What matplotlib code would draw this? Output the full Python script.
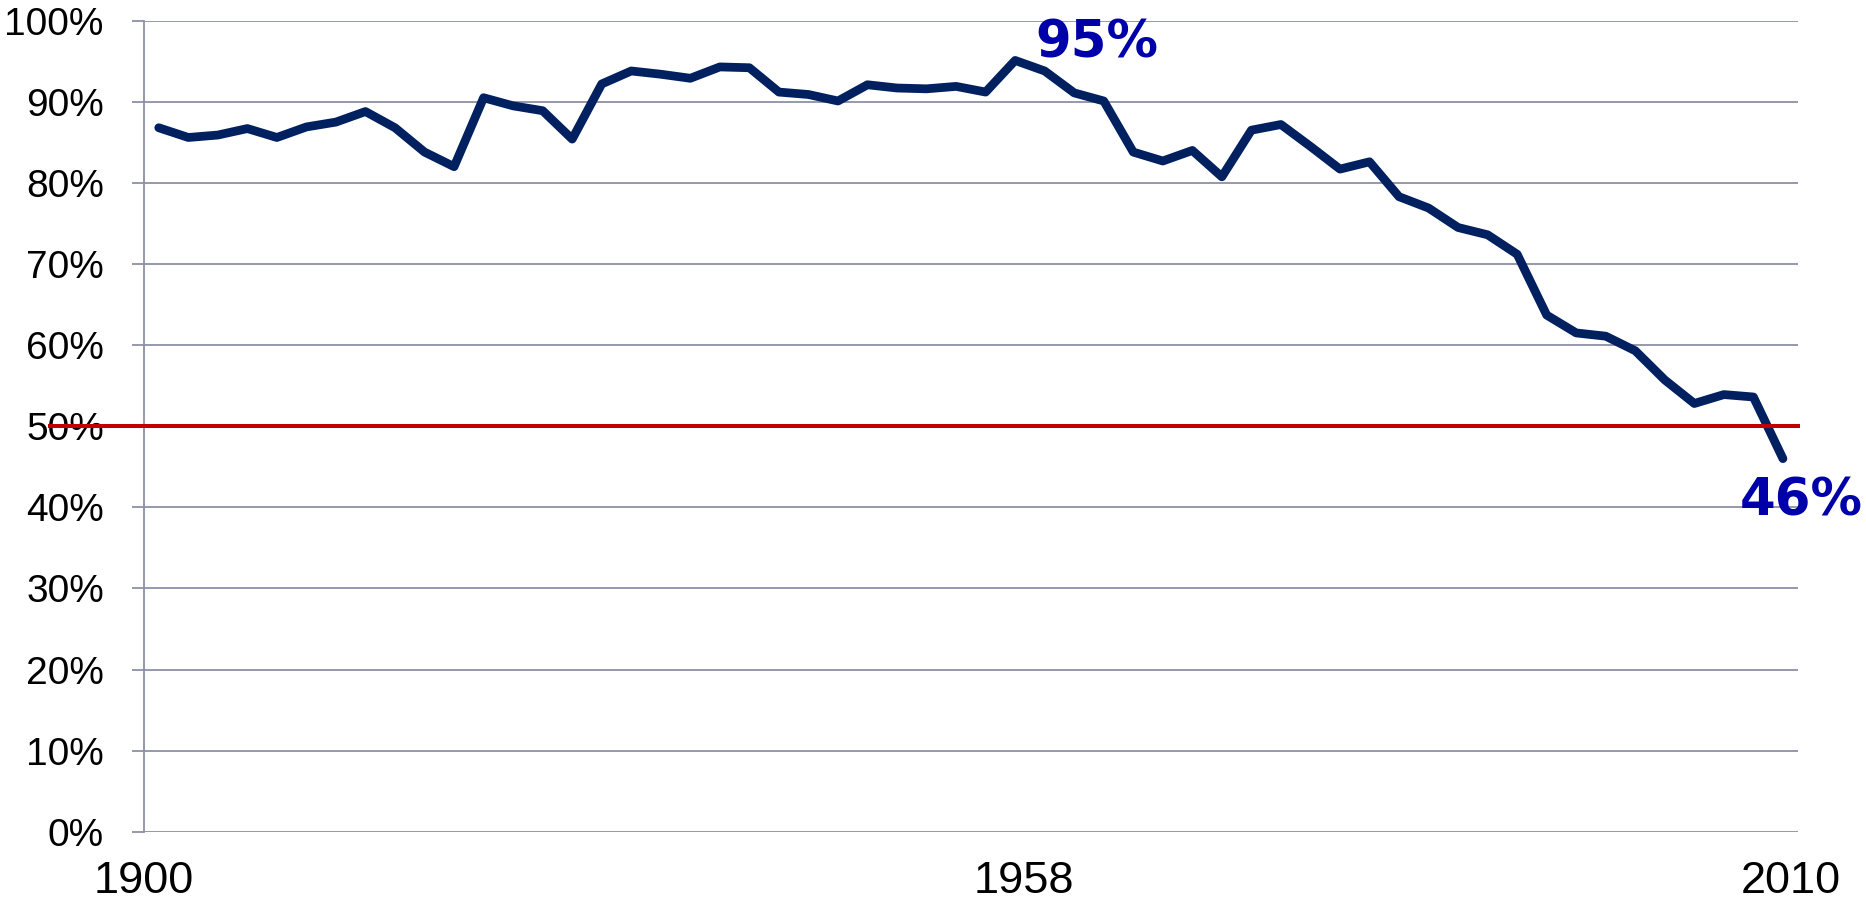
import numpy as np
import matplotlib
matplotlib.use('Agg')
from matplotlib import pyplot as plt

years = np.arange(1900, 2011, 2)
share = [86.8, 85.6, 85.9, 86.7, 85.6, 86.9, 87.5, 88.8, 86.8, 83.8,
         82.0, 90.5, 89.5, 88.9, 85.4, 92.2, 93.8, 93.4, 92.9, 94.3,
         94.2, 91.2, 90.9, 90.1, 92.1, 91.7, 91.6, 91.9, 91.2, 95.1,
         93.8, 91.1, 90.1, 83.8, 82.7, 84.0, 80.75, 86.5, 87.2, 84.5,
         81.7, 82.6, 78.3, 76.9, 74.5, 73.6, 71.2, 63.7, 61.5, 61.1,
         59.3, 55.7, 52.8, 53.9, 53.6, 46.0]
threshold = 50
y_ticks = np.arange(0, 101, 10)
x_tick_pos = [1899, 1958.6, 2010.5]
x_tick_labels = ['1900', '1958', '2010']

grid_color = '#8E90A6'
line_color = '#002060'
label_color = '#0000AA'

fig = plt.figure(figsize=(18.66, 9), dpi=100)
ax = fig.add_axes([144 / 1866, 1 - 831.7 / 900, (1797.7 - 144) / 1866, (831.7 - 20.7) / 900])

ax.plot(years, share, color=line_color, lw=6.3, solid_capstyle='round', zorder=3)
ax.plot([1892.6, 2011], [threshold, threshold], color='#C00000', lw=2.9,
        clip_on=False, zorder=4)

ax.set_xlim(1899, 2011)
ax.set_ylim(0, 100)
ax.set_yticks(y_ticks)
ax.set_yticklabels(['{}%'.format(v) for v in y_ticks])
ax.set_xticks(x_tick_pos)
ax.set_xticklabels(x_tick_labels)

ax.grid(axis='y', color=grid_color, lw=1.3, zorder=1)
ax.grid(axis='x', visible=False)
for side in ['top', 'right', 'bottom']:
    ax.spines[side].set_visible(False)
ax.spines['left'].set_color(grid_color)
ax.spines['left'].set_linewidth(1.3)

ax.tick_params(axis='y', length=8.9, width=1.3, color=grid_color, pad=20,
               labelsize=28, labelcolor='black')
ax.tick_params(axis='x', length=0, pad=21, labelsize=32.5, labelcolor='black')
for lbl in ax.get_xticklabels() + ax.get_yticklabels():
    lbl.set_fontfamily('Liberation Sans')

peak = int(np.argmax(share))
ax.annotate('{:.0f}%'.format(share[peak]), xy=(years[peak], share[peak]),
            xytext=(20, 3), textcoords='offset pixels', ha='left', va='baseline',
            fontsize=37, fontweight='bold', family='DejaVu Sans', color=label_color,
            annotation_clip=False, zorder=5)
ax.annotate('{:.0f}%'.format(share[-1]), xy=(years[-1], share[-1]),
            xytext=(-43, -57), textcoords='offset pixels', ha='left', va='baseline',
            fontsize=37, fontweight='bold', family='DejaVu Sans', color=label_color,
            annotation_clip=False, zorder=5)

fig.savefig('out.png', dpi=100)
